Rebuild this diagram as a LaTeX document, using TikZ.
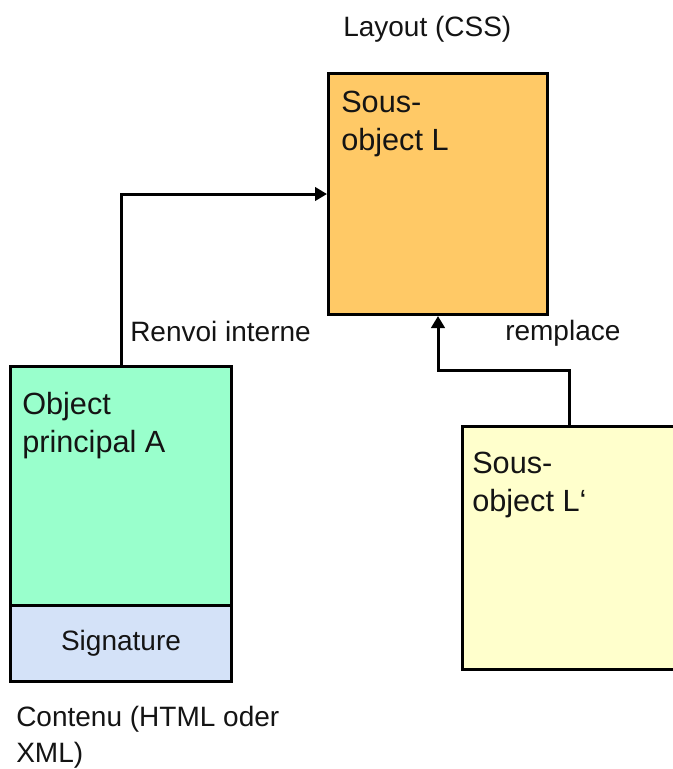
\documentclass[tikz,border=0pt]{standalone}
\usepackage{fontspec}
\setmainfont{Liberation Sans}
\usetikzlibrary{arrows.meta}
\definecolor{txt}{HTML}{141414}
\definecolor{orangefill}{HTML}{FFC966}
\definecolor{greenfill}{HTML}{99FFCC}
\definecolor{bluefill}{HTML}{D4E2F8}
\definecolor{yellowfill}{HTML}{FFFFCC}
\tikzset{
  box/.style={draw=black, line width=2.25pt, rectangle, inner sep=0pt, anchor=north west},
  lbl/.style={inner sep=0pt, anchor=base west, text=txt, font=\fontsize{21}{29}\selectfont},
  boxlbl/.style={lbl, font=\fontsize{23}{29}\selectfont},
  conn/.style={draw=black, line width=2.25pt, -{Triangle[length=9pt,width=10pt]}}
}
\begin{document}
\begin{tikzpicture}[x=0.75pt,y=-0.75pt]
\useasboundingbox (0,0) rectangle (673,769);
\clip (0,0) rectangle (673,769);
\fill[white] (0,0) rectangle (673,769);
% boxes
\node[box, fill=orangefill, minimum width=164.25pt, minimum height=180.75pt] (L) at (327,72) {};
\node[box, fill=greenfill, minimum width=165.75pt, minimum height=179.25pt] (A) at (9,365) {};
\node[box, fill=bluefill, minimum width=165.75pt, minimum height=57pt] (S) at (9,604) {};
\node[box, fill=yellowfill, minimum width=159.75pt, minimum height=182.25pt] (Lp) at (461,425) {};
% box texts
\node[boxlbl] (Ltxt) at (341,112) {\begin{tabular}[t]{@{}l@{}}Sous-\\object L\end{tabular}};
\node[boxlbl] (Atxt) at (22,414) {\begin{tabular}[t]{@{}l@{}}Object\\principal A\end{tabular}};
\node[boxlbl] (Lptxt) at (472,473) {\begin{tabular}[t]{@{}l@{}}Sous-\\object L‘\end{tabular}};
\node[inner sep=0pt, text=txt, font=\fontsize{21}{29}\selectfont] (Stxt) at (S.center) {Signature};
% outside labels
\node[lbl] (layout) at (343,36) {Layout (CSS)};
\node[lbl] (renvoi) at (130,341) {Renvoi interne};
\node[lbl] (remplace) at (505,340) {remplace};
\node[lbl, font=\fontsize{21}{27}\selectfont] (contenu) at (16,726) {\begin{tabular}[t]{@{}l@{}}Contenu (HTML oder\\XML)\end{tabular}};
% connectors
\draw[conn] (A.north) |- (L.west);
\draw[conn] (Lp.north) -- ++(0,-55) -| (L.south);
\end{tikzpicture}
\end{document}
